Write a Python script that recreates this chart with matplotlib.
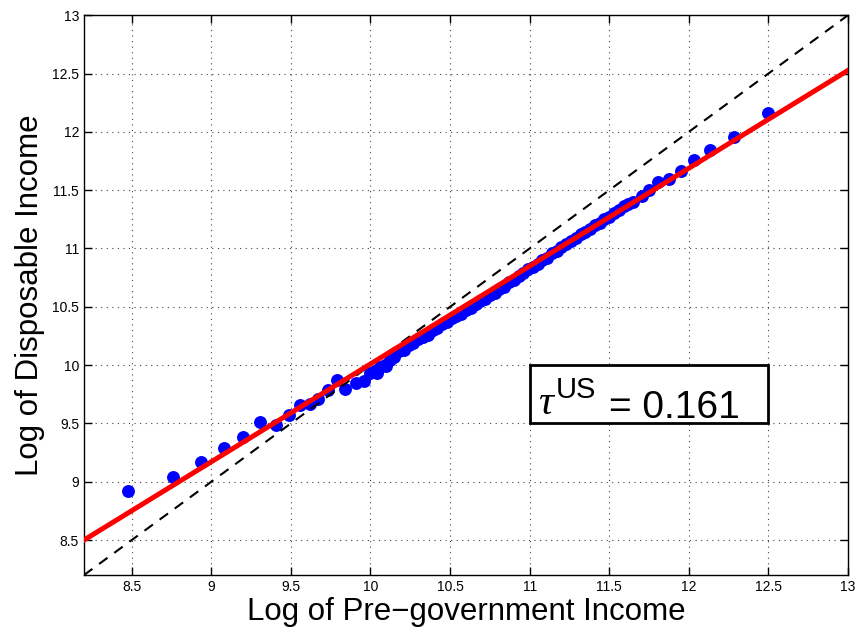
import matplotlib
matplotlib.use("Agg")
import matplotlib.pyplot as plt
from matplotlib.patches import Rectangle
import numpy as np

plt.rcParams['font.family'] = ['Liberation Sans', 'DejaVu Sans']
plt.rcParams['mathtext.fontset'] = 'custom'
plt.rcParams['mathtext.rm'] = 'Liberation Sans'
plt.rcParams['mathtext.it'] = 'Liberation Serif:italic'

# Scatter data: log pre-government income vs log disposable income
x_sparse = [8.477, 8.762, 8.938, 9.080, 9.197, 9.306, 9.409, 9.485, 9.556, 9.619,
            9.673, 9.734, 9.788, 9.839, 9.912, 9.958]
y_sparse = [8.921, 9.038, 9.167, 9.287, 9.384, 9.512, 9.484, 9.570, 9.661, 9.664,
            9.707, 9.787, 9.872, 9.793, 9.844, 9.866]

x_dense = [10.00, 10.03, 10.04, 10.06, 10.09, 10.10, 10.12, 10.15, 10.18, 10.21, 10.24, 10.27,
           10.30, 10.33, 10.36, 10.39, 10.42, 10.45, 10.48, 10.51, 10.54, 10.57,
           10.60, 10.63, 10.66, 10.69, 10.72, 10.75, 10.78, 10.81, 10.84, 10.87,
           10.90, 10.93, 10.96, 10.99, 11.02, 11.05, 11.08, 11.11, 11.14, 11.17,
           11.20, 11.23, 11.26, 11.29, 11.32, 11.35, 11.38, 11.41, 11.44, 11.47,
           11.50, 11.53, 11.56, 11.59, 11.62, 11.65]
y_dense = [9.93, 9.95, 9.93, 9.98, 10.00, 9.99, 10.04, 10.07, 10.12, 10.13, 10.17, 10.19,
           10.22, 10.24, 10.26, 10.30, 10.32, 10.35, 10.37, 10.40, 10.42, 10.44,
           10.47, 10.49, 10.52, 10.55, 10.57, 10.60, 10.62, 10.65, 10.67, 10.71,
           10.73, 10.76, 10.79, 10.82, 10.84, 10.87, 10.90, 10.92, 10.96, 10.98,
           11.01, 11.04, 11.06, 11.09, 11.12, 11.14, 11.17, 11.20, 11.22, 11.25,
           11.27, 11.30, 11.33, 11.36, 11.38, 11.40]

x_top = [11.703, 11.751, 11.808, 11.877, 11.951, 12.033, 12.133, 12.285, 12.499]
y_top = [11.449, 11.500, 11.566, 11.592, 11.663, 11.757, 11.843, 11.957, 12.163]

# Fitted line: y = intercept + slope * x, slope = 1 - tau
tau = 0.161
intercept = 1.62
slope = 1 - tau

ticks = [8.5, 9, 9.5, 10, 10.5, 11, 11.5, 12, 12.5, 13]
tick_labels = ['8.5', '9', '9.5', '10', '10.5', '11', '11.5', '12', '12.5', '13']
lims = (8.2, 13)

x_all = np.array(x_sparse + x_dense + x_top)
y_all = np.array(y_sparse + y_dense + y_top)

fig = plt.figure(figsize=(8.57, 6.34), dpi=100)
ax = fig.add_axes([0.098, 0.093, 0.8915, 0.883])

ax.plot(x_all, y_all, 'o', color='#0000ff', markersize=9.3, markeredgewidth=0, zorder=3)
xl = np.array(lims)
ax.plot(xl, xl, '--', color='black', linewidth=1.5, dashes=(5, 4), zorder=4)
ax.plot(xl, intercept + slope * xl, '-', color='#ff0000', linewidth=3.6, zorder=5)

ax.set_xlim(lims)
ax.set_ylim(lims)
ax.set_xticks(ticks)
ax.set_xticklabels(tick_labels)
ax.set_yticks(ticks)
ax.set_yticklabels(tick_labels)
ax.tick_params(direction='in', top=True, right=True, labelsize=10, length=6, width=1)
ax.grid(True, linestyle=(0, (1, 4)), color='#444444', linewidth=0.8)
ax.set_axisbelow(True)
for s in ax.spines.values():
    s.set_linewidth(1.0)

ax.set_xlabel('Log of Pre\u2212government Income', fontsize=22.5, labelpad=2)
ax.set_ylabel('Log of Disposable Income', fontsize=22.5, labelpad=5)

ax.add_patch(Rectangle((11.0, 9.5), 1.5, 0.5, facecolor='white', edgecolor='black',
                       linewidth=2, zorder=6))
ax.text(11.05, 9.581, r'$\tau$', fontsize=30, zorder=7, ha='left', va='baseline')
ax.text(11.163, 9.718, 'US', fontsize=21, zorder=7, ha='left', va='baseline')
ax.text(11.50, 9.547, '= 0.161', fontsize=28, zorder=7, ha='left', va='baseline')

fig.savefig('out.png', dpi=100)
